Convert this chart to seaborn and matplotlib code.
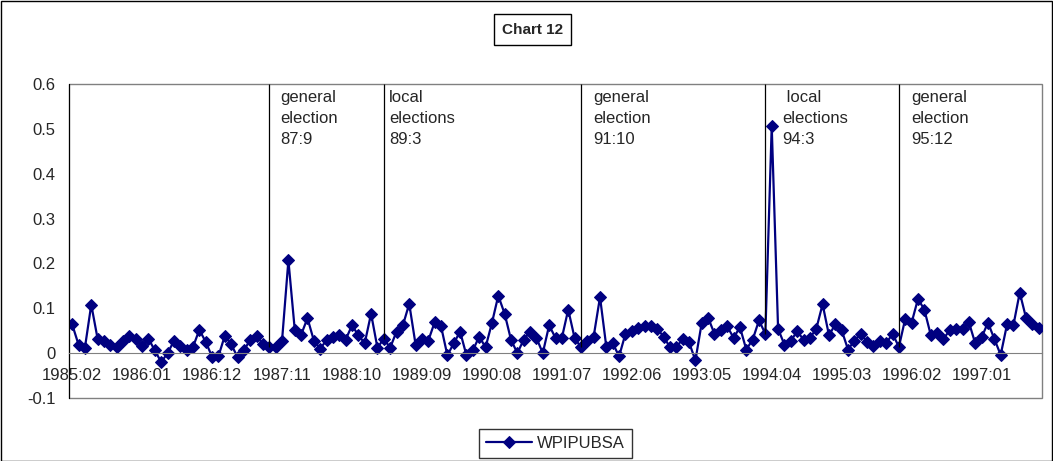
import numpy as np
import pandas as pd
import matplotlib
matplotlib.use('Agg')
import matplotlib.pyplot as plt
from matplotlib.patches import Rectangle
from matplotlib.ticker import FixedLocator, FuncFormatter
import seaborn as sns

# monthly series, 1985:02 .. 1997:10
start_year, start_month = 1985, 2
wpipubsa = [
    0.064, 0.019, 0.012, 0.108, 0.032, 0.027, 0.019, 0.013, 0.027, 0.038,
    0.032, 0.016, 0.032, 0.006, -0.020, 0.000, 0.027, 0.016, 0.007, 0.014,
    0.052, 0.025, -0.008, -0.007, 0.039, 0.020, -0.009, 0.006, 0.030, 0.039,
    0.020, 0.013, 0.013, 0.028, 0.207, 0.052, 0.041, 0.078, 0.028, 0.010,
    0.029, 0.035, 0.041, 0.030, 0.062, 0.040, 0.022, 0.088, 0.012, 0.032,
    0.012, 0.048, 0.062, 0.110, 0.019, 0.032, 0.028, 0.069, 0.060, -0.005,
    0.022, 0.048, -0.005, 0.006, 0.037, 0.013, 0.067, 0.128, 0.088, 0.030,
    0.000, 0.030, 0.048, 0.034, 0.000, 0.062, 0.034, 0.034, 0.097, 0.034,
    0.013, 0.028, 0.037, 0.125, 0.013, 0.022, -0.007, 0.043, 0.050, 0.056,
    0.060, 0.060, 0.054, 0.037, 0.013, 0.013, 0.032, 0.024, -0.016, 0.068,
    0.079, 0.043, 0.051, 0.060, 0.034, 0.058, 0.008, 0.030, 0.073, 0.043,
    0.506, 0.054, 0.019, 0.027, 0.049, 0.030, 0.034, 0.054, 0.109, 0.040,
    0.064, 0.051, 0.008, 0.028, 0.043, 0.025, 0.017, 0.027, 0.022, 0.043,
    0.014, 0.077, 0.068, 0.121, 0.097, 0.041, 0.045, 0.032, 0.051, 0.053,
    0.054, 0.069, 0.022, 0.035, 0.068, 0.032, -0.004, 0.064, 0.062, 0.135,
    0.078, 0.065, 0.057,
]
months = ["%d:%02d" % (start_year + (start_month - 1 + i) // 12, (start_month - 1 + i) % 12 + 1)
          for i in range(len(wpipubsa))]

election_months = ["1987:09", "1989:03", "1991:10", "1994:03", "1995:12"]
election_labels = ["general\nelection\n87:9", "local\nelections\n89:3", "general\nelection\n91:10",
                   " local\nelections\n94:3", "general\nelection\n95:12"]
label_offsets = [8, 4, 9, 12, 9]   # text offset from the line, points

df = pd.DataFrame({"idx": np.arange(len(wpipubsa)), "month": months, "WPIPUBSA": wpipubsa})

sns.set_style("white")
plt.rcParams['font.family'] = ['Liberation Sans', 'DejaVu Sans']
plt.rcParams['axes.unicode_minus'] = False

W, H = 1053, 461
fig = plt.figure(figsize=(W / 100, H / 100), dpi=100)
ax = fig.add_axes([69 / W, 1 - 398 / H, (1042 - 69) / W, (398 - 84) / H])

sns.lineplot(data=df, x="idx", y="WPIPUBSA", ax=ax, color="#000080", lw=1.6,
             marker="D", markersize=6, markeredgecolor="#000080", label="WPIPUBSA")

# election markers
for m, lab, off in zip(election_months, election_labels, label_offsets):
    i = months.index(m)
    ax.vlines(i, df["WPIPUBSA"][i], 0.6, color="black", lw=0.9)
    ax.annotate(lab, xy=(i, 0.6), xytext=(off, -4.5), textcoords="offset points",
                ha="left", va="top", fontsize=12, linespacing=1.5)

ax.set_xlim(-0.5, len(wpipubsa) - 0.5)
ax.set_ylim(-0.1, 0.6)
ax.set_yticks(np.arange(-0.1, 0.61, 0.1))
ax.yaxis.set_major_formatter(FuncFormatter(lambda v, p: "%g" % round(v, 1)))
ax.tick_params(axis="y", direction="out", length=4, width=1, pad=5.5, labelsize=12, color="black")

# category axis crossing at zero
ax.spines["bottom"].set_position(("data", 0))
ax.spines["bottom"].set_color("#808080")
ax.spines["left"].set_color("black")
ax.spines["top"].set_visible(False)
ax.spines["right"].set_visible(False)
ax.set_xticks(df["idx"][::11])
ax.set_xticklabels(df["month"][::11])
ax.xaxis.set_minor_locator(FixedLocator(np.arange(5.5, len(wpipubsa), 6)))
ax.tick_params(axis="x", which="major", length=0, pad=11, labelsize=12)
ax.tick_params(axis="x", which="minor", direction="out", length=4, width=1, color="black")
ax.set_xlabel("")
ax.set_ylabel("")
ax.add_patch(Rectangle((0, 0), 1, 1, transform=ax.transAxes, fill=False,
                       edgecolor="#808080", lw=1, clip_on=False, zorder=0))

h, l = ax.get_legend_handles_labels()
ax.get_legend().remove()
leg = fig.legend(h, l, loc="center", bbox_to_anchor=(555.5 / W, 1 - 443.5 / H), fontsize=12,
                 frameon=True, fancybox=False, edgecolor="black", handlelength=2.75,
                 handletextpad=0.3, borderpad=0.4)
leg.get_frame().set_linewidth(1)

fig.text(532.5 / W, 1 - 29.5 / H, "Chart 12", ha="center", va="center", fontsize=11,
         fontweight="bold", bbox=dict(boxstyle="square,pad=0.55", fc="white", ec="black", lw=1))

fig.patches.append(Rectangle((0.5 / W, 0.5 / H), 1 - 1.5 / W, 1 - 1.5 / H, transform=fig.transFigure,
                             fill=False, edgecolor="black", lw=1))

fig.savefig("out.png", dpi=100)
